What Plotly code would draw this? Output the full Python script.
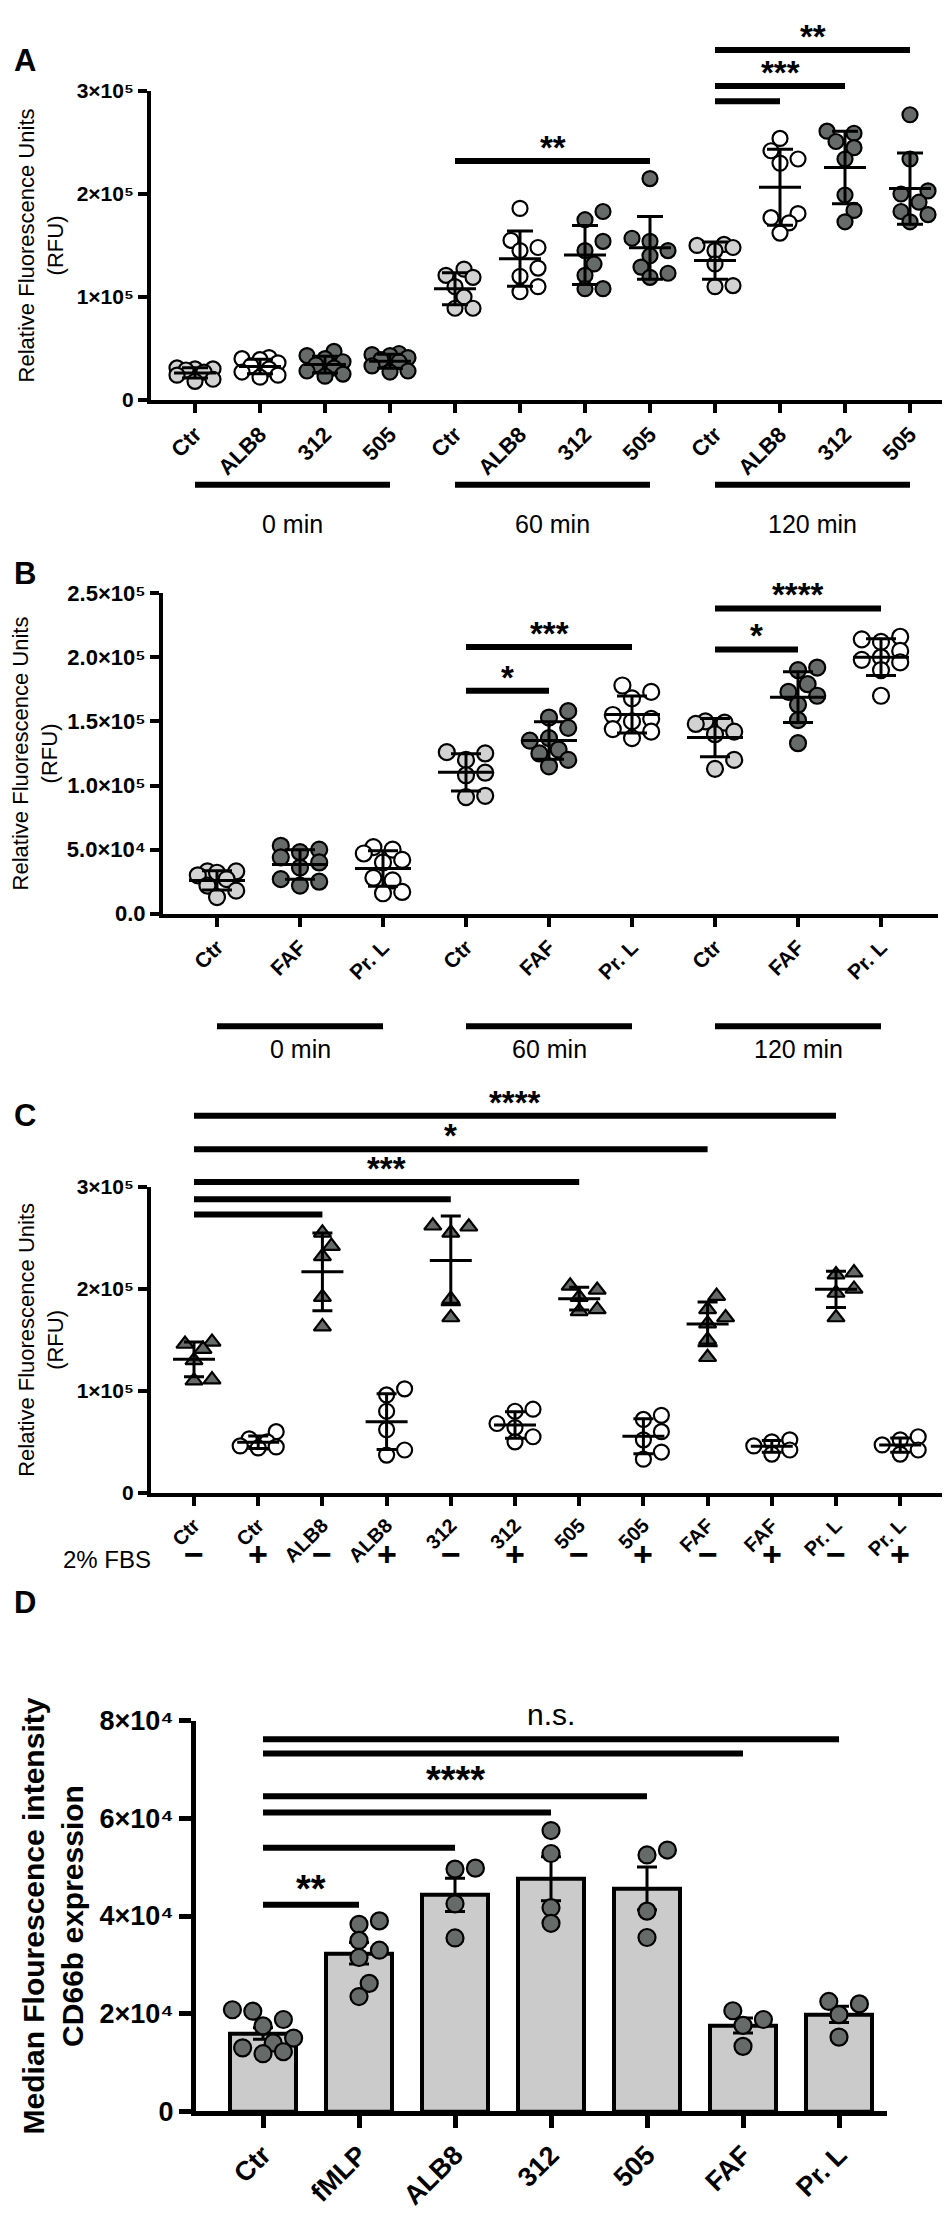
import numpy as np
import plotly.graph_objects as go

W, H = 950, 2214
FONT = "Liberation Sans, Arial, sans-serif"
LG, DG, WH = "#d2d2d2", "#666b69", "#ffffff"

# ---------------- data ----------------
# Panel A, RFU in units of 1e5
a_labels = ["Ctr", "ALB8", "312", "505"] * 3
a_colors = [LG, WH, DG, DG] * 3
a_ctr0 = [0.31, 0.30, 0.30, 0.29, 0.27, 0.24, 0.20, 0.18]
a_alb0 = [0.41, 0.40, 0.39, 0.36, 0.33, 0.30, 0.27, 0.24, 0.22]
a_312_0 = [0.47, 0.43, 0.40, 0.37, 0.34, 0.31, 0.28, 0.25, 0.23]
a_505_0 = [0.45, 0.44, 0.43, 0.41, 0.39, 0.37, 0.33, 0.28, 0.27]
a_ctr60 = [1.27, 1.21, 1.19, 1.10, 1.00, 0.89, 0.89]
a_alb60 = [1.86, 1.55, 1.48, 1.45, 1.28, 1.20, 1.10, 1.05]
a_312_60 = [1.83, 1.75, 1.54, 1.45, 1.32, 1.21, 1.08, 1.08]
a_505_60 = [2.15, 1.57, 1.54, 1.45, 1.40, 1.29, 1.23, 1.19]
a_ctr120 = [1.51, 1.50, 1.48, 1.45, 1.32, 1.11, 1.10]
a_alb120 = [2.54, 2.42, 2.34, 2.30, 1.81, 1.77, 1.72, 1.62]
a_312_120 = [2.61, 2.59, 2.51, 2.45, 2.34, 1.99, 1.84, 1.73]
a_505_120 = [2.77, 2.34, 2.03, 2.00, 1.92, 1.83, 1.80, 1.73]
a_groups = [a_ctr0, a_alb0, a_312_0, a_505_0, a_ctr60, a_alb60, a_312_60, a_505_60,
            a_ctr120, a_alb120, a_312_120, a_505_120]
a_sig = [(4, 7, 2.32, "**"), (8, 9, 2.90, ""), (8, 10, 3.05, "***"), (8, 11, 3.40, "**")]

# Panel B, RFU in units of 1e5
b_labels = ["Ctr", "FAF", "Pr. L"] * 3
b_colors = [LG, DG, WH] * 3
b_ctr0 = [0.33, 0.33, 0.32, 0.30, 0.27, 0.22, 0.18, 0.13]
b_faf0 = [0.53, 0.50, 0.48, 0.44, 0.40, 0.36, 0.27, 0.25, 0.22]
b_prl0 = [0.52, 0.50, 0.47, 0.42, 0.40, 0.28, 0.26, 0.17, 0.16]
b_ctr60 = [1.26, 1.25, 1.20, 1.10, 1.08, 0.92, 0.91]
b_faf60 = [1.58, 1.53, 1.45, 1.37, 1.35, 1.28, 1.25, 1.20, 1.15]
b_prl60 = [1.78, 1.73, 1.68, 1.55, 1.52, 1.50, 1.44, 1.42, 1.37]
b_ctr120 = [1.50, 1.49, 1.48, 1.42, 1.40, 1.20, 1.13]
b_faf120 = [1.92, 1.90, 1.79, 1.73, 1.70, 1.63, 1.51, 1.33]
b_prl120 = [2.16, 2.14, 2.12, 2.05, 2.00, 1.98, 1.96, 1.90, 1.70]
b_groups = [b_ctr0, b_faf0, b_prl0, b_ctr60, b_faf60, b_prl60, b_ctr120, b_faf120, b_prl120]
b_sig = [(3, 4, 1.74, "*"), (3, 5, 2.08, "***"), (6, 7, 2.06, "*"), (6, 8, 2.38, "****")]

time_labels = ["0 min", "60 min", "120 min"]

# Panel C, RFU in units of 1e5 ; "-" = no FBS, "+" = 2% FBS
c_labels = ["Ctr", "Ctr", "ALB8", "ALB8", "312", "312", "505", "505", "FAF", "FAF", "Pr. L", "Pr. L"]
c_fbs = ["−", "+"] * 6
c_groups = [
    [1.48, 1.46, 1.41, 1.30, 1.11, 1.10],
    [0.60, 0.53, 0.50, 0.46, 0.45, 0.44],
    [2.55, 2.42, 2.32, 1.92, 1.63],
    [1.02, 0.96, 0.80, 0.62, 0.42, 0.37],
    [2.62, 2.61, 2.55, 1.90, 1.72],
    [0.82, 0.80, 0.68, 0.64, 0.55, 0.50],
    [2.03, 1.99, 1.92, 1.80, 1.78],
    [0.76, 0.72, 0.60, 0.52, 0.40, 0.33],
    [1.93, 1.80, 1.72, 1.66, 1.50, 1.33],
    [0.52, 0.50, 0.46, 0.42, 0.38],
    [2.16, 2.14, 2.00, 1.96, 1.72],
    [0.55, 0.52, 0.47, 0.42, 0.38],
]
c_sig = [(0, 10, 3.70, "****"), (0, 8, 3.37, "*"), (0, 6, 3.05, "***"), (0, 4, 2.88, ""), (0, 2, 2.73, "")]

# Panel D, MFI in units of 1e4
d_labels = ["Ctr", "fMLP", "ALB8", "312", "505", "FAF", "Pr. L"]
d_groups = [
    [2.08, 2.05, 1.88, 1.75, 1.50, 1.40, 1.30, 1.22, 1.18],
    [3.90, 3.83, 3.50, 3.30, 3.15, 2.62, 2.35],
    [4.98, 4.96, 4.25, 3.55],
    [5.75, 5.28, 4.17, 3.85],
    [5.35, 5.25, 4.10, 3.56],
    [2.06, 1.88, 1.76, 1.33],
    [2.25, 2.20, 1.98, 1.52],
]
d_sig = [(0, 1, 4.23, "**"), (0, 2, 5.40, ""), (0, 3, 6.12, ""), (0, 4, 6.45, "****"),
         (0, 5, 7.33, ""), (0, 6, 7.62, "n.s.")]

# ---------------- layout geometry (pixels) ----------------
# x0/x1: axis ends, cat0: first category, step: px per category, y0: zero line, y1: top
PANEL = {
    "A": dict(ax="", x0=143, x1=945, cat0=187, step=65, y0=382, y1=69, top=3e5, scale=1e5),
    "B": dict(ax="2", x0=155, x1=930, cat0=209, step=83, y0=903, y1=578, top=2.5e5, scale=1e5),
    "C": dict(ax="3", x0=143, x1=936, cat0=186, step=64.2, y0=1490, y1=1180, top=3e5, scale=1e5),
    "D": dict(ax="4", x0=188, x1=879, cat0=255, step=96, y0=2117, y1=1721, top=8e4, scale=1e4),
}


def py(p):
    return 1 - p / H


def px(p):
    return p / W


def val_to_paper(p, v):
    return py(p["y0"]) + v * p["scale"] / p["top"] * (py(p["y1"]) - py(p["y0"]))


def swarm(vals, ppy, d, reach):
    """deterministic side-by-side placement of points (px offsets), overlap allowed when crowded"""
    order = sorted(range(len(vals)), key=lambda k: vals[k])
    cands = [0.0]
    c = 0.6
    while c <= reach + 1e-9:
        cands += [c, -c]
        c += 0.6
    placed = []
    offs = [0.0] * len(vals)
    for k in order:
        y = vals[k] * ppy
        best, best_d = 0.0, -1.0
        for c in cands:
            x = c * d
            md = min([((x - qx) ** 2 + (y - qy) ** 2) ** 0.5 for qx, qy in placed] or [1e9])
            if md >= 0.9 * d:
                best = x
                break
            if md > best_d:
                best_d, best = md, x
        placed.append((best, y))
        offs[k] = best
    return offs


fig = go.Figure()


def add_dots(key, groups, colors, symbols, size, reach, mean_size=None, cap=10, bars=False):
    p = PANEL[key]
    xa, ya = "x" + p["ax"], "y" + p["ax"]
    ppy = (p["y0"] - p["y1"]) / (p["top"] / p["scale"])
    n = len(groups)
    means = [float(np.mean(g)) for g in groups]
    if bars:
        errs = [float(np.std(g, ddof=1) / np.sqrt(len(g))) for g in groups]
        fig.add_trace(go.Bar(
            x=list(range(n)), y=[m * p["scale"] for m in means], width=0.69,
            marker=dict(color="#cbcbcb", line=dict(color="black", width=4)),
            error_y=dict(type="data", array=[e * p["scale"] for e in errs],
                         thickness=3, width=10, color="black"),
            xaxis=xa, yaxis=ya, showlegend=False, hoverinfo="skip"))
    for i, g in enumerate(groups):
        offs = swarm(g, ppy, size, reach)
        fig.add_trace(go.Scatter(
            x=[i + o / p["step"] for o in offs], y=[v * p["scale"] for v in g],
            mode="markers", cliponaxis=False,
            marker=dict(size=size, color=colors[i], symbol=symbols[i],
                        line=dict(color="black", width=2.2)),
            xaxis=xa, yaxis=ya, showlegend=False, hoverinfo="skip"))
    if not bars:
        sds = [float(np.std(g, ddof=1)) for g in groups]
        fig.add_trace(go.Scatter(
            x=list(range(n)), y=[m * p["scale"] for m in means], mode="markers",
            cliponaxis=False,
            marker=dict(symbol="line-ew", size=mean_size, line=dict(color="black", width=3)),
            error_y=dict(type="data", array=[s * p["scale"] for s in sds],
                         thickness=3, width=cap, color="black"),
            xaxis=xa, yaxis=ya, showlegend=False, hoverinfo="skip"))


add_dots("A", a_groups, a_colors, ["circle"] * 12, 15, 1.2, mean_size=30, cap=13)
add_dots("B", b_groups, b_colors, ["circle"] * 9, 16, 1.2, mean_size=40, cap=15)
add_dots("C", c_groups, [DG if s == "−" else WH for s in c_fbs],
         ["triangle-up" if s == "−" else "circle" for s in c_fbs], 15, 1.2, mean_size=30, cap=10)
add_dots("D", d_groups, [DG] * 7, ["circle"] * 7, 17, 1.8, bars=True)

shapes, annos = [], []


def add_sig(key, sig, lw, star_size, gap):
    p = PANEL[key]
    xa = "x" + p["ax"]
    for a, b, v, lab in sig:
        yp = val_to_paper(p, v)
        shapes.append(dict(type="line", xref=xa, yref="paper", x0=a, x1=b, y0=yp, y1=yp,
                           line=dict(color="black", width=lw)))
        if lab:
            ns = lab == "n.s."
            annos.append(dict(xref=xa, yref="paper", x=(a + b) / 2,
                              y=yp + (6 if ns else gap) / H,
                              text=lab, showarrow=False, yanchor="bottom",
                              font=dict(family=FONT, size=30 if ns else star_size,
                                        color="black", weight="normal" if ns else "bold")))


add_sig("A", a_sig, 6, 33, -7)
add_sig("B", b_sig, 6, 33, -7)
add_sig("C", c_sig, 6, 33, -7)
add_sig("D", d_sig, 6, 38, -7)


def add_time_groups(key, per, y_line, y_text):
    p = PANEL[key]
    xa = "x" + p["ax"]
    for j, lab in enumerate(time_labels):
        a, b = j * per, j * per + per - 1
        shapes.append(dict(type="line", xref=xa, yref="paper", x0=a, x1=b,
                           y0=py(y_line), y1=py(y_line), line=dict(color="black", width=6)))
        annos.append(dict(xref=xa, yref="paper", x=(a + b) / 2, y=py(y_text), text=lab,
                          showarrow=False, font=dict(family=FONT, size=25, color="black")))


add_time_groups("A", 4, 468, 492)
add_time_groups("B", 3, 1017, 1040)

# FBS row in panel C
annos.append(dict(xref="paper", yref="paper", x=px(145), y=py(1573), text="2% FBS",
                  xanchor="right", showarrow=False, font=dict(family=FONT, size=24, color="black")))
for i, s in enumerate(c_fbs):
    annos.append(dict(xref="x3", yref="paper", x=i, y=py(1573), text=s, showarrow=False,
                      font=dict(family=FONT, size=34, color="black", weight="bold")))

# panel letters
for lab, yy in [("A", 18), ("B", 538), ("C", 1107), ("D", 1621)]:
    annos.append(dict(xref="paper", yref="paper", x=px(4), y=py(yy), text=lab, xanchor="left",
                      showarrow=False, font=dict(family=FONT, size=31, color="black", weight="bold")))


def axes(key, labels, yticks, ytext, xsize, ysize, lw, tlen, title, title_size, title_bold, standoff):
    p = PANEL[key]
    n = p["ax"]
    rx = [(p["x0"] - p["cat0"]) / p["step"], (p["x1"] - p["cat0"]) / p["step"]]
    common = dict(showline=True, linewidth=lw, linecolor="black", ticks="outside",
                  ticklen=tlen, tickwidth=lw, tickcolor="black", showgrid=False, zeroline=False)
    xax = dict(domain=[px(p["x0"]), px(p["x1"])], range=rx, anchor="y" + n,
               tickvals=list(range(len(labels))), ticktext=labels, tickangle=-45,
               tickfont=dict(family=FONT, size=xsize, color="black", weight="bold"), **common)
    yax = dict(domain=[py(p["y0"]), py(p["y1"])], range=[0, p["top"]], anchor="x" + n,
               tickvals=yticks, ticktext=ytext,
               tickfont=dict(family=FONT, size=ysize, color="black", weight="bold"),
               title=dict(text=title, standoff=standoff,
                          font=dict(family=FONT, size=title_size, color="black",
                                    weight="bold" if title_bold else "normal")),
               **common)
    fig.update_layout({"xaxis" + n: xax, "yaxis" + n: yax})


rfu = "Relative Fluorescence Units<br>(RFU)"
sup5 = ["0", "1×10⁵", "2×10⁵", "3×10⁵"]
axes("A", a_labels, [0, 1e5, 2e5, 3e5], sup5, 22, 21, 4, 9, rfu, 22, False, 8)
axes("B", b_labels, [0, 5e4, 1e5, 1.5e5, 2e5, 2.5e5],
     ["0.0", "5.0×10⁴", "1.0×10⁵", "1.5×10⁵", "2.0×10⁵", "2.5×10⁵"],
     21, 22, 4, 9, rfu, 22, False, 4)
axes("C", c_labels, [0, 1e5, 2e5, 3e5], sup5, 20, 21, 4, 9, rfu, 22, False, 8)
axes("D", d_labels, [0, 2e4, 4e4, 6e4, 8e4], ["0", "2×10⁴", "4×10⁴", "6×10⁴", "8×10⁴"],
     27, 27, 5, 12, "Median Flourescence intensity<br>CD66b expression", 30, True, 8)

fig.update_layout(width=W, height=H, margin=dict(l=0, r=0, t=0, b=0),
                  plot_bgcolor="white", paper_bgcolor="white",
                  shapes=shapes, annotations=annos, bargap=0)

fig.write_html("out.html")
